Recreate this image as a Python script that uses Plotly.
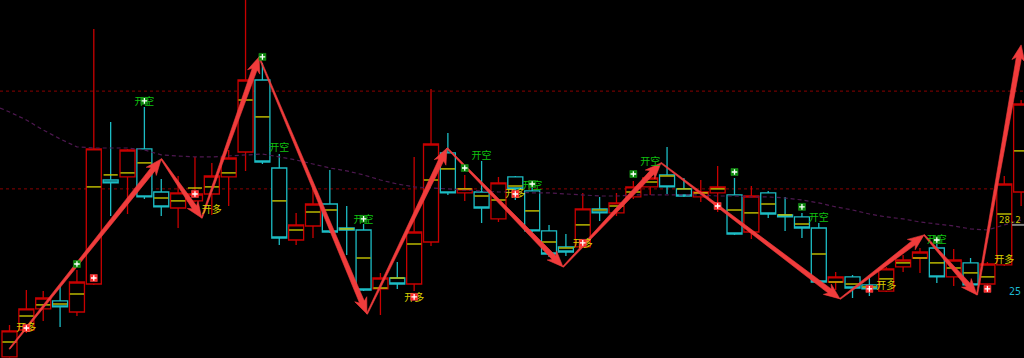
import plotly.graph_objects as go

# ---------------- data ----------------
bars = list(range(61))
open_ = [22.04, 23.25, 24.20, 24.56, 24.06, 25.32, 30.00, 30.14, 31.40, 29.46,
         28.74, 29.06, 29.37, 30.14, 31.26, 34.50, 30.54, 27.30, 27.93, 28.92,
         27.84, 27.75, 25.10, 25.59, 25.32, 27.21, 31.22, 29.42, 29.46, 28.25,
         30.14, 29.51, 27.71, 26.99, 26.99, 28.70, 28.52, 29.24, 29.69, 30.23,
         29.60, 29.24, 29.42, 29.33, 27.66, 29.42, 28.43, 28.34, 27.84, 25.41,
         25.64, 25.28, 25.00, 26.09, 26.49, 26.94, 25.64, 26.27, 25.32, 26.18,
         29.46]
high = [23.48, 25.05, 25.00, 25.23, 25.95, 36.80, 32.61, 31.40, 33.29, 30.05,
        30.18, 31.04, 30.77, 31.35, 38.50, 35.27, 31.17, 28.52, 29.64, 30.45,
        28.83, 28.02, 25.82, 26.31, 31.04, 34.10, 32.12, 30.23, 30.86, 30.14,
        30.18, 29.91, 27.98, 27.57, 29.42, 29.24, 29.42, 29.96, 30.23, 31.49,
        30.09, 30.00, 30.63, 30.09, 29.73, 29.51, 29.24, 28.52, 28.07, 25.86,
        25.73, 25.59, 26.09, 26.63, 26.94, 27.35, 26.90, 26.49, 26.31, 30.18,
        33.60]
low = [22.00, 23.12, 23.66, 23.39, 23.88, 25.28, 28.38, 28.47, 29.15, 28.38,
       27.84, 29.01, 28.43, 28.83, 30.41, 30.72, 27.08, 27.08, 27.39, 27.62,
       26.63, 25.00, 23.93, 25.10, 25.00, 27.03, 29.33, 29.06, 28.07, 28.11,
       29.10, 27.66, 26.54, 26.58, 26.94, 28.16, 28.38, 29.15, 29.33, 29.37,
       29.24, 29.01, 28.56, 27.53, 27.35, 28.29, 27.71, 27.39, 25.37, 25.05,
       24.69, 24.78, 24.96, 25.86, 25.82, 25.37, 25.23, 25.23, 24.96, 26.13,
       28.83]
close = [23.21, 24.20, 24.69, 24.29, 25.41, 31.40, 29.87, 31.35, 29.24, 28.79,
         29.42, 29.37, 30.18, 30.99, 34.50, 30.81, 27.39, 27.98, 28.92, 27.66,
         27.75, 25.05, 25.59, 25.32, 27.66, 31.62, 29.42, 29.60, 28.74, 29.87,
         29.60, 27.71, 26.67, 26.76, 28.70, 28.52, 28.97, 29.69, 30.09, 29.69,
         29.28, 29.46, 29.69, 27.57, 29.28, 28.47, 28.34, 27.84, 25.41, 25.64,
         25.14, 25.10, 26.00, 26.40, 26.76, 25.64, 26.40, 25.28, 26.22, 29.82,
         33.42]
avg_price = [22.71, 23.88, 24.38, 24.42, 24.87, 29.69, 30.23, 30.32, 30.77, 29.19,
             29.06, 29.64, 29.69, 30.32, 33.60, 32.84, 29.06, 27.75, 28.56, 28.65,
             27.80, 26.49, 25.14, 25.59, 27.12, 30.00, 30.50, 29.60, 29.28, 29.10,
             29.73, 28.61, 27.21, 26.94, 27.98, 28.65, 28.83, 29.46, 29.91, 30.18,
             29.60, 29.42, 29.60, 28.65, 28.52, 28.92, 28.43, 28.02, 26.67, 25.41,
             25.32, 25.19, 25.55, 26.27, 26.49, 26.27, 26.04, 25.82, 25.64, 28.47,
             31.31]
ma_x = [-0.56] + list(range(61))
ma_line = [33.24, 33.06, 32.70, 32.25, 31.85, 31.49, 31.44, 31.44, 31.44, 31.35, 31.13,
           31.08, 31.04, 31.04, 31.08, 31.13, 31.17, 31.04, 30.90, 30.72, 30.54,
           30.41, 30.23, 30.00, 29.82, 29.69, 29.64, 29.60, 29.55, 29.51, 29.46,
           29.46, 29.42, 29.42, 29.37, 29.33, 29.28, 29.28, 29.33, 29.33, 29.33,
           29.33, 29.33, 29.28, 29.28, 29.24, 29.24, 29.19, 29.10, 28.97, 28.79,
           28.65, 28.47, 28.34, 28.25, 28.11, 28.02, 27.93, 27.80, 27.75, 27.98,
           28.20]
ref_levels = [34.00, 29.60]

zigzag_x = [0, 9, 11.4, 14.8, 21.2, 25.95, 32.83, 38.64, 49.26, 54.24, 57.38, 60.0]
zigzag_y = [22.40, 30.95, 28.29, 35.54, 23.97, 31.44, 26.09, 30.77, 24.65, 27.53, 24.83, 36.08]

buy_dot_x = [1, 5, 11, 24, 30, 34, 42, 51, 58]
buy_dot_y = [23.34, 25.59, 29.37, 24.74, 29.37, 27.17, 28.83, 25.10, 25.10]
sell_dot_x = [4, 8, 15, 21, 27, 31, 37, 43, 47, 55]
sell_dot_y = [26.22, 33.56, 35.54, 28.25, 30.54, 29.82, 30.27, 30.36, 28.79, 27.30]

long_txt_x = [1, 12, 24, 30, 34, 52, 59]
long_txt_y = [23.30, 28.61, 24.65, 29.37, 27.08, 25.19, 26.36]
short_txt_x = [8, 16, 21, 28, 31, 38, 48, 55]
short_txt_y = [33.47, 31.40, 28.16, 31.04, 29.73, 30.77, 28.25, 27.30]

last_price_label = "28.2"
last_price = 28.20
low_label = "25"
low_label_price = 25.00

# ---------------- layout constants ----------------
W, H = 1024, 358
XR = [-0.5635, 60.17]
YR = [21.99, 38.10]

RED = "#c80000"
CYAN = "#1cbcc4"
YEL = "#c8c400"
ARROW = "#f03c3c"


def to_px(x, y):
    return ((x - XR[0]) / (XR[1] - XR[0]) * W, (YR[1] - y) / (YR[1] - YR[0]) * H)


def to_data(px, py):
    return (XR[0] + px / W * (XR[1] - XR[0]), YR[1] - py / H * (YR[1] - YR[0]))


fig = go.Figure()

for lv in ref_levels:
    fig.add_shape(type="line", xref="paper", x0=0, x1=1, y0=lv, y1=lv,
                  line=dict(color="#8a0000", width=1, dash="3px,3px"), layer="below")

fig.add_trace(go.Scatter(x=ma_x, y=ma_line, mode="lines",
                         line=dict(color="#4e1850", width=1.2, dash="4px,3px"),
                         hoverinfo="skip", showlegend=False))

fig.add_trace(go.Candlestick(
    x=bars, open=open_, high=high, low=low, close=close,
    increasing=dict(line=dict(color=RED, width=1.3), fillcolor="#000000"),
    decreasing=dict(line=dict(color=CYAN, width=1.3), fillcolor="#000000"),
    whiskerwidth=0, showlegend=False))

tx, ty = [], []
for i, v in zip(bars, avg_price):
    tx += [i - 0.42, i + 0.42, None]
    ty += [v, v, None]
fig.add_trace(go.Scatter(x=tx, y=ty, mode="lines", line=dict(color=YEL, width=1.4),
                         hoverinfo="skip", showlegend=False))

ax_, ay_ = [], []
for k in range(len(zigzag_x) - 1):
    sx, sy = to_px(zigzag_x[k], zigzag_y[k])
    ex, ey = to_px(zigzag_x[k + 1], zigzag_y[k + 1])
    dx, dy = ex - sx, ey - sy
    L = (dx * dx + dy * dy) ** 0.5
    ux, uy = dx / L, dy / L
    nx, ny = -uy, ux
    hl, hw, w0, w1 = 16.0, 6.5, 0.6, 2.6
    bx, by = ex - ux * hl, ey - uy * hl
    nb_x, nb_y = ex - ux * (hl - 3), ey - uy * (hl - 3)
    pts = [(sx + nx * w0, sy + ny * w0), (nb_x + nx * w1, nb_y + ny * w1),
           (bx + nx * hw, by + ny * hw), (ex, ey),
           (bx - nx * hw, by - ny * hw), (nb_x - nx * w1, nb_y - ny * w1),
           (sx - nx * w0, sy - ny * w0), (sx + nx * w0, sy + ny * w0)]
    for p in pts:
        d = to_data(*p)
        ax_.append(d[0])
        ay_.append(d[1])
    ax_.append(None)
    ay_.append(None)
fig.add_trace(go.Scatter(x=ax_, y=ay_, mode="lines", fill="toself", fillcolor=ARROW,
                         line=dict(color=ARROW, width=0.6), hoverinfo="skip",
                         showlegend=False))

fig.add_trace(go.Scatter(x=long_txt_x, y=long_txt_y, mode="text", text=["开多"] * len(long_txt_x),
                         textfont=dict(family="Noto Sans CJK SC", size=10, color="#d8d000"),
                         hoverinfo="skip", showlegend=False, cliponaxis=False))
fig.add_trace(go.Scatter(x=short_txt_x, y=short_txt_y, mode="text", text=["开空"] * len(short_txt_x),
                         textfont=dict(family="Noto Sans CJK SC", size=10, color="#10c010"),
                         hoverinfo="skip", showlegend=False, cliponaxis=False))

fig.add_trace(go.Scatter(x=buy_dot_x, y=buy_dot_y, mode="markers",
                         marker=dict(symbol="square", size=7, color="#ff2a2a",
                                     line=dict(color="#ff5050", width=0.5)),
                         hoverinfo="skip", showlegend=False))
fig.add_trace(go.Scatter(x=buy_dot_x, y=buy_dot_y, mode="markers",
                         marker=dict(symbol="cross-thin", size=4, line=dict(color="#ffffff", width=1.3)),
                         hoverinfo="skip", showlegend=False))
fig.add_trace(go.Scatter(x=sell_dot_x, y=sell_dot_y, mode="markers",
                         marker=dict(symbol="square", size=7, color="#0b8a0b",
                                     line=dict(color="#20a020", width=0.5)),
                         hoverinfo="skip", showlegend=False))
fig.add_trace(go.Scatter(x=sell_dot_x, y=sell_dot_y, mode="markers",
                         marker=dict(symbol="cross-thin", size=4, line=dict(color="#ffffff", width=1.3)),
                         hoverinfo="skip", showlegend=False))

fig.add_annotation(xref="paper", x=1023 / W, y=last_price, yref="y", text=last_price_label,
                   xanchor="right", yanchor="middle", showarrow=False,
                   font=dict(family="DejaVu Sans Mono", size=9, color="#d0c800"))
fig.add_shape(type="line", xref="paper", x0=1012 / W, x1=1, y0=last_price - 0.22, y1=last_price - 0.22,
              line=dict(color="#808080", width=2))
fig.add_annotation(xref="paper", x=1023 / W, y=low_label_price, yref="y", text=low_label,
                   xanchor="right", yanchor="middle", showarrow=False,
                   font=dict(family="DejaVu Sans Mono", size=10, color="#1cb8d0"))

fig.update_layout(
    width=W, height=H, margin=dict(l=0, r=0, t=0, b=0),
    paper_bgcolor="#000000", plot_bgcolor="#000000",
    boxgap=0.11, boxgroupgap=0,
    xaxis=dict(range=XR, visible=False, showgrid=False, zeroline=False,
               rangeslider=dict(visible=False), fixedrange=True),
    yaxis=dict(range=YR, visible=False, showgrid=False, zeroline=False, fixedrange=True),
    showlegend=False, hovermode=False,
)

fig.write_html("out.html", config={"displayModeBar": False})
